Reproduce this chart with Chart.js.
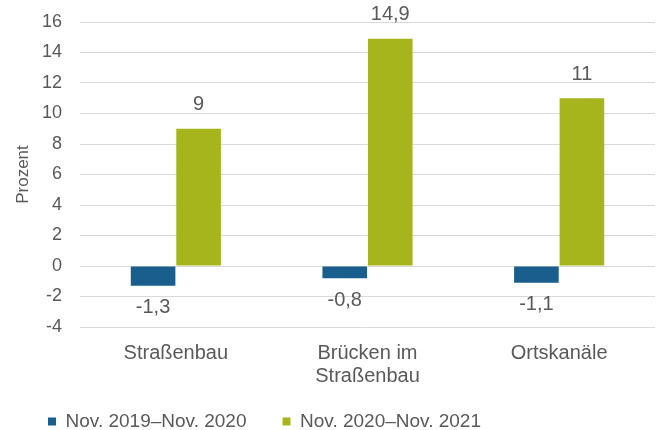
<!DOCTYPE html>
<html>
<head>
<meta charset="utf-8">
<script src="https://cdn.jsdelivr.net/npm/chart.js@4"></script>
<style>
  html, body { margin: 0; padding: 0; background: #fff; }
  #wrap { width: 667px; height: 430px; }
</style>
</head>
<body>
<div id="wrap"><canvas id="chart"></canvas></div>
<script>
const categories = ['Straßenbau', ['Brücken im', 'Straßenbau'], 'Ortskanäle'];
const seriesNames = ['Nov. 2019–Nov. 2020', 'Nov. 2020–Nov. 2021'];
const values2020 = [-1.3, -0.8, -1.1];
const values2021 = [9, 14.9, 11];

const textColor = '#595959';
const fontFamily = '"Liberation Sans", Arial, sans-serif';

// draws the value labels above/below each bar
const valueLabels = {
  id: 'valueLabels',
  afterDatasetsDraw(chart) {
    const ctx = chart.ctx;
    ctx.save();
    ctx.fillStyle = textColor;
    ctx.font = '20px ' + fontFamily;
    ctx.textAlign = 'center';
    ctx.textBaseline = 'middle';
    chart.data.datasets.forEach((ds, i) => {
      chart.getDatasetMeta(i).data.forEach((bar, j) => {
        const v = ds.data[j];
        const txt = String(v).replace('.', ',');
        const y = v < 0 ? bar.y + 22 : bar.y - 24;
        ctx.fillText(txt, bar.x, y);
      });
    });
    ctx.restore();
  }
};

// legend: small box so the plot reaches down, then move it where the original has it
const legendPlace = {
  id: 'legendPlace',
  beforeInit(chart) {
    const fit = chart.legend.fit;
    chart.legend.fit = function () {
      fit.call(this);
      this.height = 45;
    };
  },
  afterLayout(chart) {
    const lg = chart.legend;
    lg.top = chart.height - 54;
    lg.bottom = chart.height + 10;
    lg.height = 64;
    lg.left -= 63; lg.right -= 63;
  }
};

new Chart(document.getElementById('chart'), {
  type: 'bar',
  data: {
    labels: categories,
    datasets: [
      { label: seriesNames[0], data: values2020, backgroundColor: '#195E8C' },
      { label: seriesNames[1], data: values2021, backgroundColor: '#A5B51B' }
    ]
  },
  options: {
    responsive: true,
    maintainAspectRatio: false,
    animation: false,
    layout: { padding: { top: 0, right: 12, left: 0, bottom: 0 } },
    datasets: { bar: { categoryPercentage: 0.475, barPercentage: 0.98 } },
    plugins: {
      legend: {
        position: 'bottom',
        labels: {
          color: textColor,
          font: { size: 19, family: fontFamily },
          boxWidth: 8,
          boxHeight: 8,
          padding: 36
        }
      },
      tooltip: { enabled: false }
    },
    scales: {
      x: {
        grid: { display: false },
        border: { display: false },
        ticks: { color: textColor, font: { size: 20, family: fontFamily, lineHeight: 1.15 }, padding: 7 },
        afterFit(scale) { scale.height = 58; }
      },
      y: {
        min: -4,
        max: 16,
        ticks: { stepSize: 2, color: textColor, font: { size: 18, family: fontFamily }, padding: 18 },
        grid: { color: '#d9d9d9', lineWidth: 1, drawTicks: false },
        border: { display: false },
        title: { display: true, text: 'Prozent', color: textColor, font: { size: 17, family: fontFamily }, padding: { top: 13, bottom: 0 } },
        afterFit(scale) { scale.width = 80; scale.paddingTop = 22; }
      }
    }
  },
  plugins: [valueLabels, legendPlace]
});
</script>
</body>
</html>
